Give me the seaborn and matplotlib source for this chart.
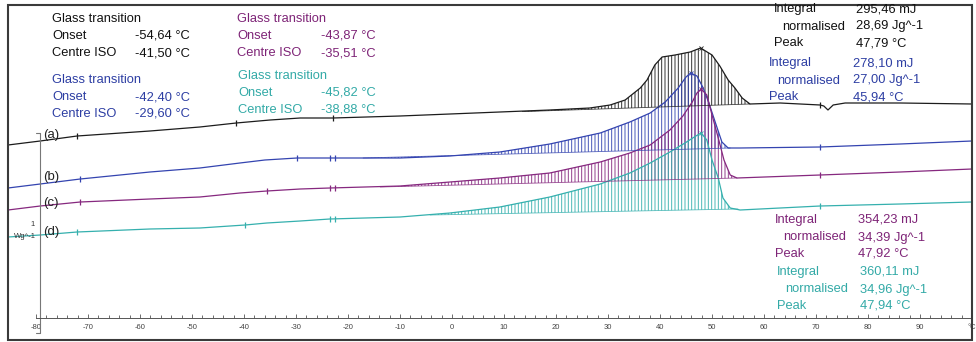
import numpy as np
import pandas as pd
import seaborn as sns
import matplotlib.pyplot as plt
from matplotlib.patches import Rectangle

# DSC curves (temperature in °C, heat flow in Wg^-1 incl. stacking offset)
t_a = [-85.4, -79.2, -72.1, -58.1, -48.5, -41.5, -35.0, -29.2, -22.9, -10.0, -0.4, 9.2, 18.8, 26.5,
       30.4, 33.3, 36.2, 37.5, 39.0, 40.4, 42.9, 45.8, 47.8, 50.0, 51.5, 53.1, 54.4, 55.8, 57.3, 63.1,
       70.8, 71.5, 72.3, 73.3, 75.6, 86.2, 100.0]
hf_a = [0.865, 0.885, 0.910, 0.935, 0.955, 0.975, 0.990, 1.000, 1.000, 1.010, 1.020, 1.030, 1.040, 1.050,
        1.065, 1.090, 1.150, 1.190, 1.265, 1.305, 1.315, 1.330, 1.350, 1.315, 1.260, 1.190, 1.150, 1.100,
        1.070, 1.075, 1.065, 1.060, 1.040, 1.065, 1.075, 1.075, 1.070]

t_b = [-85.4, -79.2, -71.5, -58.1, -48.5, -40.8, -36.0, -29.8, -23.5, -17.1, -10.0, -0.4, 9.2, 18.8,
       28.5, 34.2, 38.1, 41.0, 43.5, 45.0, 45.9, 47.1, 48.3, 49.4, 50.8, 51.9, 53.1, 55.4, 70.8, 86.2, 100.0]
hf_b = [0.650, 0.670, 0.695, 0.730, 0.750, 0.775, 0.790, 0.800, 0.800, 0.800, 0.800, 0.810, 0.830, 0.870,
        0.925, 0.980, 1.025, 1.080, 1.150, 1.205, 1.225, 1.210, 1.150, 1.075, 0.965, 0.880, 0.850, 0.850,
        0.855, 0.870, 0.885]

t_c = [-85.4, -79.2, -71.5, -58.1, -48.5, -40.8, -35.6, -29.2, -23.5, -10.0, -0.4, 9.2, 18.8, 28.5,
       34.2, 38.1, 41.9, 44.4, 46.2, 47.1, 47.9, 49.0, 50.0, 51.2, 52.3, 53.5, 54.8, 70.8, 86.2, 100.0]
hf_c = [0.540, 0.560, 0.580, 0.595, 0.605, 0.625, 0.635, 0.645, 0.650, 0.660, 0.680, 0.700, 0.725, 0.780,
        0.825, 0.865, 0.940, 1.010, 1.080, 1.125, 1.145, 1.115, 1.015, 0.900, 0.790, 0.715, 0.700, 0.715,
        0.730, 0.745]

t_d = [-85.4, -79.2, -72.1, -58.1, -48.5, -39.8, -35.6, -29.2, -23.5, -10.0, -0.4, 9.2, 18.8, 28.5,
       34.2, 38.1, 41.9, 44.8, 46.9, 47.9, 49.0, 50.0, 51.2, 52.1, 53.5, 55.4, 70.8, 86.2, 100.0]
hf_d = [0.405, 0.415, 0.430, 0.445, 0.450, 0.465, 0.475, 0.485, 0.495, 0.505, 0.525, 0.555, 0.605, 0.670,
        0.725, 0.775, 0.830, 0.875, 0.910, 0.925, 0.890, 0.790, 0.700, 0.600, 0.550, 0.540, 0.560, 0.570,
        0.580]

# integration baselines of the melting peaks: (T start, T end), (hf start, hf end)
base_t = {'a': (13.5, 57.3), 'b': (-17.1, 53.5), 'c': (-13.8, 54.8), 'd': (-4.2, 55.0)}
base_hf = {'a': (1.032, 1.070), 'b': (0.800, 0.850), 'c': (0.655, 0.700), 'd': (0.515, 0.545)}

# evaluation limit marks on each curve
marks = {'a': [-72.1, -41.5, -22.9, 70.8],
         'b': [-71.5, -29.8, -23.5, -22.5, 70.8],
         'c': [-71.5, -35.6, -23.5, -22.5, 70.8],
         'd': [-72.1, -39.8, -23.5, -22.5, 70.8]}

colors = {'a': '#1c1c1c', 'b': '#3444b0', 'c': '#86287f', 'd': '#35b0ae'}
text_colors = {'a': '#111111', 'b': '#2d3ea3', 'c': '#7e2477', 'd': '#33aaa7'}

# results boxes
tg_onset = {'a': '-54,64 °C', 'b': '-42,40 °C', 'c': '-43,87 °C', 'd': '-45,82 °C'}
tg_centre = {'a': '-41,50 °C', 'b': '-29,60 °C', 'c': '-35,51 °C', 'd': '-38,88 °C'}
integral = {'a': '295,46 mJ', 'b': '278,10 mJ', 'c': '354,23 mJ', 'd': '360,11 mJ'}
normalised = {'a': '28,69 Jg^-1', 'b': '27,00 Jg^-1', 'c': '34,39 Jg^-1', 'd': '34,96 Jg^-1'}
peak = {'a': '47,79 °C', 'b': '45,94 °C', 'c': '47,92 °C', 'd': '47,94 °C'}

xticks = list(range(-80, 101, 10))
xticklabels = [str(v) for v in range(-80, 100, 10)] + ['°C']

curves = {'a': (t_a, hf_a), 'b': (t_b, hf_b), 'c': (t_c, hf_c), 'd': (t_d, hf_d)}
df = pd.concat([pd.DataFrame({'T': t, 'hf': h, 'sample': k}) for k, (t, h) in curves.items()])

sns.set_theme(style='white')
plt.rcParams['font.family'] = ['Liberation Sans', 'DejaVu Sans']
plt.rcParams['hatch.linewidth'] = 0.7

W, H = 976, 342
fig = plt.figure(figsize=(W / 100, H / 100), dpi=100)
ax = fig.add_axes([8 / W, 1 - 340 / H, 964 / W, 335 / H])


def px(x, y):
    return x / W, 1 - y / H


sns.lineplot(data=df, x='T', y='hf', hue='sample', palette=colors, estimator=None, sort=False,
             legend=False, lw=0.9, ax=ax)

for k, (t, h) in curves.items():
    # hatched peak area between curve and baseline
    tg = np.linspace(base_t[k][0], base_t[k][1], 300)
    yc = np.interp(tg, t, h)
    yb = np.interp(tg, base_t[k], base_hf[k])
    ax.fill_between(tg, yc, yb, facecolor='none', edgecolor=colors[k], hatch='|||||', linewidth=0, alpha=0.9)
    ax.plot(base_t[k], base_hf[k], color=colors[k], lw=0.6, alpha=0.8)
    ax.plot(marks[k], np.interp(marks[k], t, h), ls='none', marker='|', ms=5, mew=0.9, color=colors[k])
    # peak mark
    i = int(np.argmax(h))
    ax.plot([t[i]], [h[i]], ls='none', marker='x', ms=3, mew=0.6, color=colors[k])

# curve labels
for k, yl in zip('abcd', [0.915, 0.705, 0.575, 0.43]):
    ax.text(-78.7, yl, '(%s)' % k, fontsize=9.5, color='#222222', va='center', ha='left')

# scale bar 1 Wg^-1
ax.plot([-79.2, -79.2], [-0.075, 0.925], color='#777777', lw=0.8)
ax.plot([-80.0, -79.2], [0.925, 0.925], color='#777777', lw=0.8)
ax.plot([-80.0, -79.2], [-0.075, -0.075], color='#777777', lw=0.8)
ax.text(-80.6, 0.465, '1', fontsize=5.5, color='#333333', ha='center', va='center')
ax.text(-80.0, 0.405, 'Wg^-1', fontsize=5.5, color='#333333', ha='right', va='center')

# axis
ax.set_xlim(-85.4, 100.0)
ax.set_ylim(-0.11, 1.565)
for s in ['left', 'right', 'top']:
    ax.spines[s].set_visible(False)
ax.spines['bottom'].set_position(('data', 0))
ax.spines['bottom'].set_bounds(-80, 100)
ax.spines['bottom'].set_color('#555555')
ax.spines['bottom'].set_linewidth(0.7)
ax.set_xticks(xticks)
ax.set_xticklabels(xticklabels)
ax.set_xticks(np.arange(-80, 101, 2), minor=True)
ax.set_yticks([])
ax.tick_params(axis='x', which='both', direction='in', color='#555555', width=0.6, bottom=True)
ax.tick_params(axis='x', which='major', length=3, labelsize=5.5, labelcolor='#444444', pad=4)
ax.tick_params(axis='x', which='minor', length=2)
ax.set_xlabel('')
ax.set_ylabel('')

fig.patches.append(Rectangle((8 / W, 1 - 340 / H), 964 / W, 335 / H, transform=fig.transFigure,
                             fill=False, edgecolor='#3a3a3a', lw=1.5))

# glass transition results
fs = 9.3
for k, x0, x1, y0 in [('a', 52, 135, 19), ('b', 52, 135, 80), ('c', 237, 321, 19), ('d', 238, 321, 76)]:
    c = text_colors[k]
    fig.text(*px(x0, y0), 'Glass transition', color=c, fontsize=fs, va='center')
    fig.text(*px(x0, y0 + 17), 'Onset', color=c, fontsize=fs, va='center')
    fig.text(*px(x1, y0 + 17), tg_onset[k], color=c, fontsize=fs, va='center')
    fig.text(*px(x0, y0 + 34), 'Centre ISO', color=c, fontsize=fs, va='center')
    fig.text(*px(x1, y0 + 34), tg_centre[k], color=c, fontsize=fs, va='center')

# melting peak results
for k, x0, x1, y0 in [('a', 774, 856, 9), ('b', 769, 853, 63), ('c', 775, 858, 220), ('d', 777, 860, 272)]:
    c = text_colors[k]
    fig.text(*px(x0, y0), 'Integral', color=c, fontsize=fs, va='center')
    fig.text(*px(x1, y0), integral[k], color=c, fontsize=fs, va='center')
    fig.text(*px(x0 + 8, y0 + 17.5), 'normalised', color=c, fontsize=fs, va='center')
    fig.text(*px(x1, y0 + 17.5), normalised[k], color=c, fontsize=fs, va='center')
    fig.text(*px(x0, y0 + 34), 'Peak', color=c, fontsize=fs, va='center')
    fig.text(*px(x1, y0 + 34), peak[k], color=c, fontsize=fs, va='center')

fig.savefig('out.png', dpi=100)
